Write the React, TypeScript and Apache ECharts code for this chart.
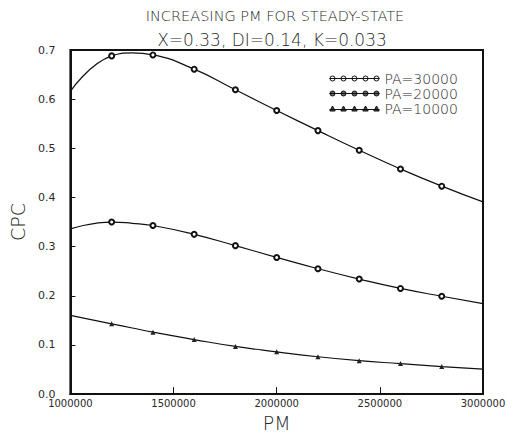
import React, { useEffect, useRef } from "react";
import * as echarts from "echarts";

const pm = [1000000, 1200000, 1300000, 1400000, 1600000, 1800000, 2000000, 2200000, 2400000, 2600000, 2800000, 3000000];
const pmMarked = [1200000, 1400000, 1600000, 1800000, 2000000, 2200000, 2400000, 2600000, 2800000];
const pa30000 = [0.616, 0.688, 0.694, 0.690, 0.661, 0.619, 0.577, 0.536, 0.496, 0.458, 0.423, 0.391];
const pa20000 = [0.336, 0.350, 0.3475, 0.343, 0.325, 0.302, 0.278, 0.255, 0.234, 0.215, 0.199, 0.184];
const pa10000 = [0.160, 0.143, 0.1345, 0.126, 0.111, 0.097, 0.086, 0.076, 0.068, 0.062, 0.056, 0.051];
const seriesNames = ["PA=30000", "PA=20000", "PA=10000"];
const titleText = "INCREASING PM FOR STEADY-STATE";
const subtitleText = "X=0.33, DI=0.14, K=0.033";
const yTicks = [0, 0.1, 0.2, 0.3, 0.4, 0.5, 0.6, 0.7];

const FONT = "'DejaVu Sans', sans-serif";
const TXT = "#2a2a2a";

function circlesIcon() {
  let d = "M0 3L50 3";
  [3, 14, 25, 36, 47].forEach((cx) => {
    d += `M${cx + 2.5} 3A2.5 2.5 0 1 1 ${cx - 2.5} 3A2.5 2.5 0 1 1 ${cx + 2.5} 3Z`;
  });
  return "path://" + d;
}
function trianglesIcon() {
  let d = "M0 4L50 4";
  [3, 14, 25, 36, 47].forEach((cx) => {
    d += `M${cx - 2.7} 5.5L${cx} 0.5L${cx + 2.7} 5.5Z`;
  });
  return "path://" + d;
}

export default function App() {
  const ref = useRef<HTMLDivElement>(null);
  useEffect(() => {
    if (!ref.current) return;
    const chart = echarts.init(ref.current, null, { renderer: "svg" });
    const build = (vals: number[]) =>
      pm.map((x, i) => ({
        value: [x, vals[i]],
        symbol: pmMarked.includes(x) ? undefined : "none",
      }));
    const lineCommon = {
      type: "line" as const,
      smooth: 0.5,
      lineStyle: { color: "#111", width: 1.2 },
      symbolSize: 5,
    };
    chart.setOption({
      animation: false,
      backgroundColor: "#fff",
      textStyle: { fontFamily: FONT },
      grid: {
        left: 65,
        right: 30,
        top: 50,
        bottom: 42,
        show: true,
        borderColor: "#111",
        borderWidth: 2,
        backgroundColor: "transparent",
      },
      graphic: [
        {
          type: "text",
          x: 275,
          y: 16,
          style: {
            text: titleText,
            fill: TXT,
            font: `200 14.5px ${FONT}`,
            textAlign: "center",
            textVerticalAlign: "middle",
          },
        },
        {
          type: "text",
          x: 272,
          y: 40,
          style: {
            text: subtitleText,
            fill: TXT,
            font: `200 17px ${FONT}`,
            textAlign: "center",
            textVerticalAlign: "middle",
          },
        },
      ],
      legend: {
        orient: "vertical",
        left: 329,
        top: 71,
        padding: 0,
        itemWidth: 50,
        itemHeight: 6,
        itemGap: 0,
        selectedMode: false,
        textStyle: { fontSize: 14, lineHeight: 15, color: TXT, fontWeight: 200, fontFamily: FONT },
        data: [
          { name: seriesNames[0], icon: circlesIcon(), itemStyle: { color: "#fff", borderColor: "#111", borderWidth: 1 } },
          { name: seriesNames[1], icon: circlesIcon(), itemStyle: { color: "#666", borderColor: "#111", borderWidth: 1 } },
          { name: seriesNames[2], icon: trianglesIcon(), itemStyle: { color: "#444", borderColor: "#111", borderWidth: 1 } },
        ],
      },
      xAxis: {
        type: "value",
        min: 1000000,
        max: 3000000,
        interval: 500000,
        name: "PM",
        nameLocation: "middle",
        nameGap: 15,
        nameTextStyle: { fontSize: 19, color: TXT, fontWeight: 200, fontFamily: FONT },
        axisLine: { show: true, lineStyle: { color: "#111", width: 2 } },
        axisTick: { show: true, inside: true, length: 7, lineStyle: { color: "#111", width: 1 } },
        axisLabel: { fontSize: 10, color: TXT, margin: 4, fontFamily: FONT, formatter: (v: number) => String(v) },
        splitLine: { show: false },
      },
      yAxis: {
        type: "value",
        min: 0,
        max: 0.7,
        interval: 0.1,
        name: "CPC",
        nameLocation: "middle",
        nameGap: 31,
        nameTextStyle: { fontSize: 19, color: TXT, fontWeight: 200, fontFamily: FONT },
        axisLine: { show: true, lineStyle: { color: "#111", width: 2 } },
        axisTick: { show: true, inside: true, length: 5, lineStyle: { color: "#111", width: 1 } },
        axisLabel: {
          fontSize: 11,
          color: TXT,
          margin: 15,
          fontFamily: FONT,
          formatter: (v: number) => (yTicks.some((t) => Math.abs(t - v) < 1e-9) ? v.toFixed(1) : ""),
        },
        splitLine: { show: false },
      },
      series: [
        {
          ...lineCommon,
          name: seriesNames[0],
          symbol: "emptyCircle",
          itemStyle: { color: "#111", borderWidth: 1 },
          data: build(pa30000),
        },
        {
          ...lineCommon,
          name: seriesNames[1],
          symbol: "emptyCircle",
          itemStyle: { color: "#111", borderWidth: 1.8 },
          data: build(pa20000),
        },
        {
          ...lineCommon,
          name: seriesNames[2],
          symbol: "triangle",
          itemStyle: { color: "#222" },
          data: build(pa10000),
        },
      ],
    });
    return () => chart.dispose();
  }, []);
  return <div ref={ref} style={{ width: 513, height: 437, position: "absolute", left: 0, top: 0 }} />;
}
